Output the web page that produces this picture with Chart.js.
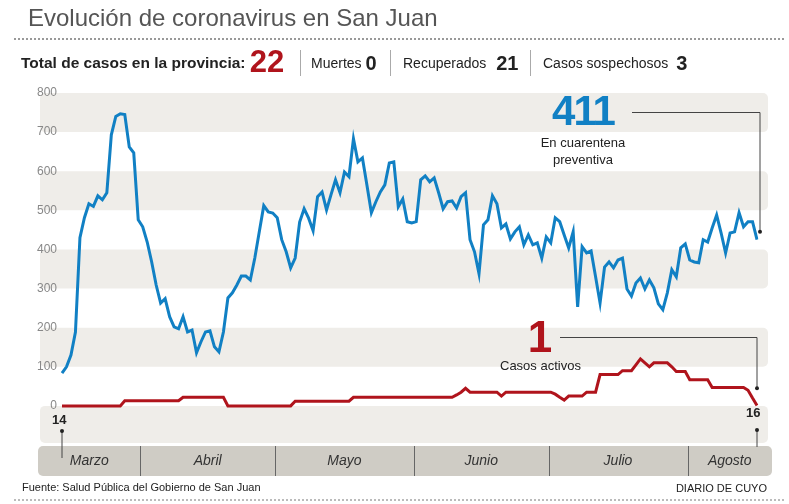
<!DOCTYPE html>
<html><head><meta charset="utf-8">
<script src="https://cdn.jsdelivr.net/npm/chart.js@4"></script>
<style>
body{margin:0;width:789px;height:504px;overflow:hidden;background:#fff;font-family:"Liberation Sans",Arial,sans-serif;position:relative}
.t{position:absolute;white-space:nowrap}
canvas{position:absolute;left:0;top:0}
</style></head><body>
<canvas id="c" width="789" height="504"></canvas>
<div class="t" style="left:28px;top:4px;font-size:24px;color:#555">Evolución de coronavirus en San Juan</div>
<div class="t" style="left:14px;top:38px;width:770px;border-top:2px dotted #999"></div>
<div class="t" style="left:21px;top:49px;font-size:15.5px;font-weight:bold;color:#222;line-height:26px">Total de casos en la provincia: <span style="color:#b0141c;font-size:31px;vertical-align:-4px">22</span></div>
<div class="t" style="left:300px;top:50px;height:26px;border-left:1px solid #aaa"></div>
<div class="t" style="left:311px;top:50px;font-size:14px;color:#222;line-height:26px">Muertes <b style="font-size:20px;vertical-align:-2px">0</b></div>
<div class="t" style="left:390px;top:50px;height:26px;border-left:1px solid #aaa"></div>
<div class="t" style="left:403px;top:50px;font-size:14px;color:#222;line-height:26px">Recuperados <b style="font-size:20px;vertical-align:-2px;margin-left:6px">21</b></div>
<div class="t" style="left:530px;top:50px;height:26px;border-left:1px solid #aaa"></div>
<div class="t" style="left:543px;top:50px;font-size:14px;color:#222;line-height:26px">Casos sospechosos <b style="font-size:20px;vertical-align:-2px;margin-left:4px">3</b></div>
<div class="t" style="left:528px;top:88px;width:110px;text-align:center;font-size:42px;line-height:46px;font-weight:bold;color:#1180c4;letter-spacing:-2px">411</div>
<div class="t" style="left:520px;top:134px;width:126px;text-align:center;font-size:13px;color:#222;line-height:17px;white-space:normal">En cuarentena preventiva</div>
<div class="t" style="left:515px;top:314px;width:50px;text-align:center;font-size:44px;line-height:46px;font-weight:bold;color:#b0141c">1</div>
<div class="t" style="left:500px;top:358px;font-size:13px;color:#222">Casos activos</div>
<div class="t" style="left:52px;top:412px;font-size:13px;font-weight:bold;color:#222">14</div>
<div class="t" style="left:746px;top:405px;font-size:13px;font-weight:bold;color:#222">16</div>
<div class="t" style="left:22px;top:481px;font-size:11px;color:#222">Fuente: Salud Pública del Gobierno de San Juan</div>
<div class="t" style="right:22px;top:482px;font-size:11px;color:#222">DIARIO DE CUYO</div>
<div class="t" style="left:14px;top:499px;width:770px;border-top:2px dotted #bbb"></div>
<script>
const quarantine=[84,100,130,189,430,481,517,510,537,527,545,693,740,747,745,662,647,476,458,419,368,309,263,274,228,202,197,228,189,194,136,164,189,192,151,138,189,276,289,309,332,332,322,378,445,512,496,493,481,425,394,353,
378,470,504,480,448,535,547,501,540,578,545,598,586,683,624,634,565,494,522,547,565,621,624,509,529,471,468,471,578,588,573,583,545,504,522,524,506,535,545,425,394,338,463,476,537,517,455,465,427,445,458,
412,437,412,417,378,432,417,481,471,437,404,445,253,407,391,396,330,263,355,368,353,373,378,299,281,314,327,299,322,302,261,246,289,348,330,404,414,373,368,366,425,419,455,488,442,391,442,445,494,458,471,471,425];
const active=[0,0,0,0,0,0,0,0,0,0,0,0,0,0,
13,13,13,13,13,13,13,13,13,13,13,13,13,
22,22,22,22,22,22,22,22,22,22,
0,0,0,0,0,0,0,0,0,0,0,0,0,0,0,
12,12,12,12,12,12,12,12,12,12,12,12,12,
22,22,22,22,22,22,22,22,22,22,22,22,22,22,22,22,22,22,22,22,22,22,22,
28,35,45,35,35,35,35,35,35,35,25,
35,35,35,35,35,35,35,35,35,35,35,30,22,15,25,25,25,25,35,35,35,
80,80,80,80,80,90,90,90,105,120,110,100,110,110,110,110,100,88,88,88,
67,67,67,67,67,47,47,47,47,47,47,47,47,40,20,1];
const months=["Marzo","Abril","Mayo","Junio","Julio","Agosto"];
const monthStarts=[0,18,48,79,109,140,156];
const yTicks=[0,100,200,300,400,500,600,700,800];
const bands=[[700,800],[500,600],[300,400],[100,200],[-95,0]];
const labels=quarantine.map((_,i)=>i);
const deco={id:'deco',beforeDatasetsDraw(ch){
 const c=ch.ctx,x=ch.scales.x,y=ch.scales.y;const L=40,R=768;
 c.save();c.fillStyle='#efede9';
 bands.forEach(b=>{const t=y.getPixelForValue(b[1]),bt=y.getPixelForValue(b[0]);c.beginPath();c.roundRect(L,t,R-L,bt-t,5);c.fill();});
 c.fillStyle='#cfccc5';const mt=y.getPixelForValue(-100)+1;c.beginPath();c.roundRect(38,mt,734,30,5);c.fill();
 c.strokeStyle='#666';c.lineWidth=1;c.font='italic 14px "Liberation Sans",Arial';c.fillStyle='#333';c.textAlign='center';c.textBaseline='middle';
 for(let i=0;i<months.length;i++){const a=i==0?38:x.getPixelForValue(monthStarts[i]-0.5),b=i==months.length-1?772:x.getPixelForValue(monthStarts[i+1]-0.5);
  if(i>0){c.beginPath();c.moveTo(Math.round(a)+.5,mt);c.lineTo(Math.round(a)+.5,mt+30);c.stroke();}
  c.fillText(months[i],(a+b)/2,mt+15);}
 c.font='12px "Liberation Sans",Arial';c.fillStyle='#888';c.textAlign='right';
 yTicks.forEach(v=>c.fillText(v,57,y.getPixelForValue(v)));
 c.strokeStyle='#444';c.fillStyle='#222';
 const lx=x.getPixelForValue(155);
 const qy=y.getPixelForValue(445),ay=y.getPixelForValue(45);
 c.beginPath();c.moveTo(632,112.5);c.lineTo(lx+3,112.5);c.lineTo(lx+3,qy);c.stroke();
 c.beginPath();c.arc(lx+3,qy,2,0,7);c.fill();
 c.beginPath();c.moveTo(560,337.5);c.lineTo(lx,337.5);c.lineTo(lx,ay);c.stroke();
 c.beginPath();c.arc(lx,ay,2,0,7);c.fill();
 const x0=x.getPixelForValue(0);
 [[x0,431,458],[lx,430,447]].forEach(p=>{c.beginPath();c.moveTo(p[0],p[1]);c.lineTo(p[0],p[2]);c.stroke();c.beginPath();c.arc(p[0],p[1],2,0,7);c.fill();});
 c.restore();}};
new Chart(document.getElementById('c'),{type:'line',
 data:{labels,datasets:[
  {data:quarantine,borderColor:'#1180c4',borderWidth:3,pointRadius:0,tension:0},
  {data:active,borderColor:'#b0141c',borderWidth:3,pointRadius:0,tension:0}]},
 options:{responsive:false,animation:false,events:[],
  layout:{padding:{left:62,right:32,top:93,bottom:59}},
  plugins:{legend:{display:false},tooltip:{enabled:false}},
  scales:{x:{display:false},y:{display:false,min:-100,max:800}}},
 plugins:[deco]});
</script></body></html>
